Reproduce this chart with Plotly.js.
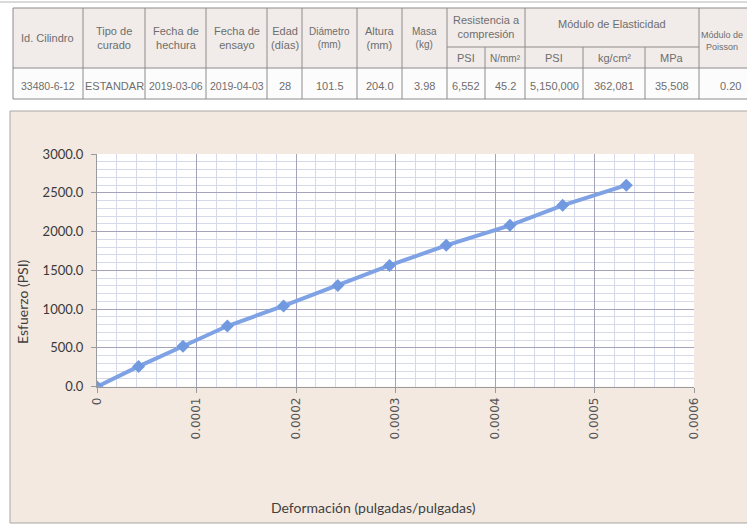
<!DOCTYPE html>
<html>
<head>
<meta charset="utf-8">
<script src="https://cdn.plot.ly/plotly-3.0.1.min.js"></script>
<style>html,body{margin:0;padding:0;background:#fff;}#chart{width:747px;height:527px;}</style>
</head>
<body>
<div id="chart"></div>
<script>
// ---- Data ----
const deformacion = [0, 0.0000418, 0.0000864, 0.000131, 0.0001875, 0.000242, 0.000294, 0.000351, 0.000415, 0.000468, 0.000532];
const esfuerzo = [0, 262, 522, 782, 1042, 1305, 1563, 1822, 2080, 2338, 2598];
const yTickVals = [0, 500, 1000, 1500, 2000, 2500, 3000];
const yTickText = ["0.0", "500.0", "1000.0", "1500.0", "2000.0", "2500.0", "3000.0"];
const xTickVals = [0, 0.0001, 0.0002, 0.0003, 0.0004, 0.0005, 0.0006];
const xTickText = ["0", "0.0001", "0.0002", "0.0003", "0.0004", "0.0005", "0.0006"];

const headers = ["Id. Cilindro", "Tipo de<br>curado", "Fecha de<br>hechura", "Fecha de<br>ensayo", "Edad<br>(días)", "Diámetro<br>(mm)", "Altura<br>(mm)", "Masa<br>(kg)"];
const groupHeaders = ["Resistencia a<br>compresión", "Módulo de Elasticidad", "Módulo de<br>Poisson"];
const subHeaders = ["PSI", "N/mm²", "PSI", "kg/cm²", "MPa"];
const dataRow = ["33480-6-12", "ESTANDAR", "2019-03-06", "2019-04-03", "28", "101.5", "204.0", "3.98", "6,552", "45.2", "5,150,000", "362,081", "35,508", "0.20"];

// ---- Layout geometry (pixels) ----
const W = 747, H = 527;
const px = v => v / W;
const py = v => 1 - v / H;
const colEdges = [13, 83, 145, 206, 267, 302, 357, 402, 447, 485, 525, 583, 645, 699, 800];
const tTop = 8, tSub = 47, tHead = 68, tBot = 99;

const shapes = [];
const ann = [];
const tc = "#6e6e6e";
const tfont = {family: "Liberation Sans, Arial, sans-serif", size: 11, color: tc};
const lineC = "#8c8c8c";
const A = (text, x, y, font, extra) => Object.assign({text: text, xref: "paper", yref: "paper", x: x, y: y, showarrow: false, xanchor: "center", yanchor: "middle", font: font}, extra || {});

// page top line
shapes.push({type: "line", xref: "paper", yref: "paper", x0: 0, x1: 1, y0: py(2), y1: py(2), line: {color: "#b5b5b5", width: 1}});
// table backgrounds
shapes.push({type: "rect", xref: "paper", yref: "paper", x0: px(colEdges[0]), x1: px(colEdges[colEdges.length - 1]), y0: py(tHead), y1: py(tTop), fillcolor: "#f1ebe9", line: {width: 0}});
shapes.push({type: "rect", xref: "paper", yref: "paper", x0: px(colEdges[0]), x1: px(colEdges[colEdges.length - 1]), y0: py(tBot), y1: py(tHead), fillcolor: "#fdfcfc", line: {width: 0}});
// horizontal table lines
[tTop, tHead, tBot].forEach(y => shapes.push({type: "line", xref: "paper", yref: "paper", x0: px(colEdges[0]), x1: px(colEdges[colEdges.length - 1]), y0: py(y), y1: py(y), line: {color: lineC, width: 1}}));
shapes.push({type: "line", xref: "paper", yref: "paper", x0: px(colEdges[8]), x1: px(colEdges[13]), y0: py(tSub), y1: py(tSub), line: {color: lineC, width: 1}});
// vertical table lines
colEdges.forEach((x, i) => {
  const inner = (i === 9 || i === 11 || i === 12);
  shapes.push({type: "line", xref: "paper", yref: "paper", x0: px(x), x1: px(x), y0: py(tBot), y1: py(inner ? tSub : tTop), line: {color: lineC, width: 1}});
});
const cx = i => px((colEdges[i] + colEdges[i + 1]) / 2);
// header texts
headers.forEach((h, i) => {
  const small = (i === 5 || i === 7);
  ann.push(A(h, cx(i), py(38), Object.assign({}, tfont, {size: small ? 10 : 11})));
});
ann.push(A(groupHeaders[0], px((colEdges[8] + colEdges[10]) / 2), py(27), tfont));
ann.push(A(groupHeaders[1], px((colEdges[10] + colEdges[13]) / 2), py(24), tfont));
ann.push(A(groupHeaders[2], px(722), py(41), Object.assign({}, tfont, {size: 9})));
subHeaders.forEach((s, k) => {
  ann.push(A(s, cx(8 + k), py(58), Object.assign({}, tfont, {size: s === "N/mm²" ? 10 : 11})));
});
dataRow.forEach((d, i) => {
  const xx = i === 13 ? px(730) : cx(i);
  ann.push(A(d, xx, py(86), Object.assign({}, tfont, {size: (i === 0 || i === 2 || i === 3) ? 10.5 : 11})));
});

// chart box
shapes.push({type: "rect", xref: "paper", yref: "paper", x0: px(10), x1: px(790), y0: py(523), y1: py(111), fillcolor: "#f3e9e0", line: {color: "#a9a6a3", width: 1}, layer: "below"});
shapes.push({type: "rect", xref: "x domain", yref: "y domain", x0: 0, x1: 1, y0: 0, y1: 1, fillcolor: "#ffffff", line: {width: 0}, layer: "below"});

// axis titles
ann.push(A("Deformación (pulgadas/pulgadas)", px(373), py(507), {family: "Lato, sans-serif", size: 14, color: "#3f3f3f"}));
ann.push(A("Esfuerzo (PSI)", px(22), py(302), {family: "Lato, sans-serif", size: 14, color: "#3f3f3f"}, {textangle: -90}));

const trace = {
  x: deformacion, y: esfuerzo, type: "scatter", mode: "lines+markers",
  line: {color: "#7ea2e4", width: 4},
  marker: {symbol: "diamond", size: 10, color: "#7199e0"},
  hoverinfo: "x+y"
};

const layout = {
  width: W, height: H,
  margin: {l: 0, r: 0, t: 0, b: 0},
  paper_bgcolor: "#ffffff",
  plot_bgcolor: "rgba(0,0,0,0)",
  showlegend: false,
  xaxis: {
    domain: [px(97), px(694)], range: [0, 0.0006],
    tickvals: xTickVals, ticktext: xTickText, tickangle: -90,
    tickfont: {family: "DejaVu Sans, sans-serif", size: 12, color: "#555555"},
    showgrid: true, gridcolor: "#a3a3bb", gridwidth: 1,
    minor: {dtick: 0.00002, showgrid: true, gridcolor: "#d6d9ea", gridwidth: 1},
    ticks: "outside", ticklen: 5, tickcolor: "#9a9a9a",
    showline: true, linecolor: "#9a9a9a", linewidth: 1,
    zeroline: false, fixedrange: true
  },
  yaxis: {
    domain: [1 - 386.7 / H, 1 - 154 / H], range: [0, 3000],
    tickvals: yTickVals, ticktext: yTickText,
    tickfont: {family: "Lato, sans-serif", size: 13, color: "#3a3a3a"},
    showgrid: true, gridcolor: "#a3a3bb", gridwidth: 1,
    minor: {dtick: 100, showgrid: true, gridcolor: "#d6d9ea", gridwidth: 1},
    ticks: "outside", ticklen: 5, tickcolor: "#9a9a9a", ticklabelstandoff: 5,
    showline: true, linecolor: "#9a9a9a", linewidth: 1,
    zeroline: false, fixedrange: true
  },
  shapes: shapes,
  annotations: ann
};

Plotly.newPlot("chart", [trace], layout, {displayModeBar: false, staticPlot: true});
</script>
</body>
</html>
